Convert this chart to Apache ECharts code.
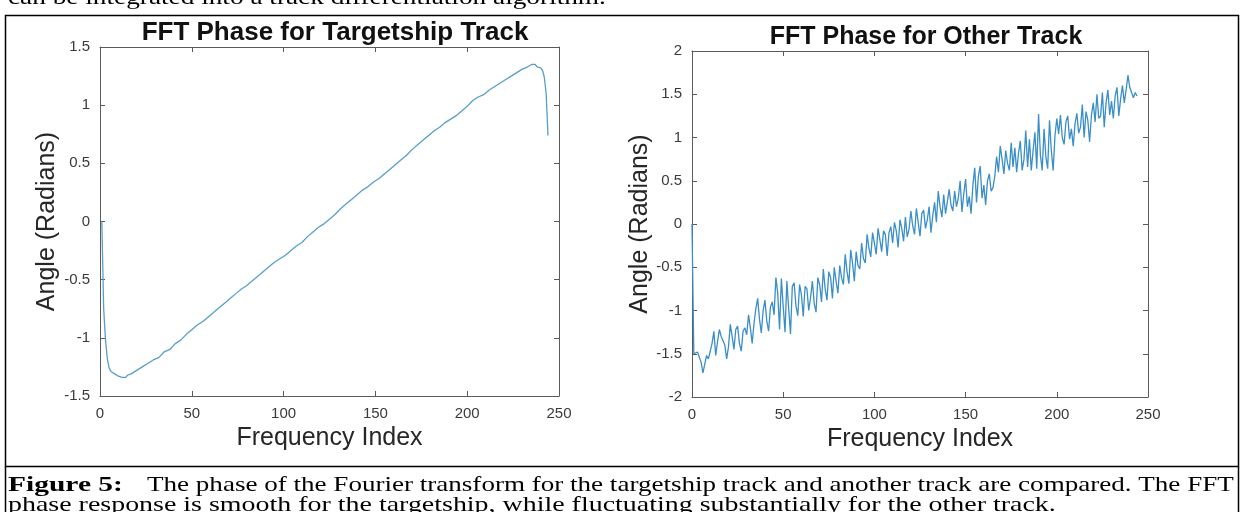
<!DOCTYPE html>
<html>
<head>
<meta charset="utf-8">
<script src="https://cdn.jsdelivr.net/npm/echarts@6/dist/echarts.min.js"></script>
<style>
html,body{margin:0;padding:0;background:#fff;}
#c{width:1244px;height:512px;}
</style>
</head>
<body>
<div id="c"></div>
<script>
// ---- data ----
const xTicks = [0, 50, 100, 150, 200, 250];
const leftTitle = 'FFT Phase for Targetship Track';
const rightTitle = 'FFT Phase for Other Track';
const xName = 'Frequency Index';
const yName = 'Angle (Radians)';

// Targetship track: [frequency index, phase]
const targetIdx = [1,2,3,4,5,6,7,8,9,10,11,12,13,14,15,17,20,23,26,29,32,35,38,41,44,47,50,53,56,59,62,65,68,71,74,77,80,83,86,89,92,95,98,101,104,107,110,113,116,119,122,125,128,131,134,137,140,143,146,149,152,155,158,161,164,167,170,173,176,179,182,185,188,191,194,197,200,203,206,209,212,215,218,221,224,227,230,233,235,236,237,238,240,241,242,243,244];
const targetPhase = [0.00,-0.75,-1.02,-1.18,-1.26,-1.29,-1.30,-1.31,-1.32,-1.33,-1.34,-1.34,-1.33,-1.34,-1.32,-1.31,-1.28,-1.25,-1.22,-1.19,-1.17,-1.12,-1.10,-1.05,-1.02,-0.97,-0.93,-0.89,-0.86,-0.82,-0.78,-0.74,-0.70,-0.66,-0.62,-0.58,-0.55,-0.51,-0.47,-0.43,-0.39,-0.35,-0.32,-0.29,-0.25,-0.21,-0.18,-0.13,-0.09,-0.05,-0.02,0.02,0.06,0.11,0.15,0.19,0.23,0.27,0.30,0.34,0.37,0.41,0.45,0.49,0.53,0.57,0.62,0.66,0.70,0.74,0.78,0.81,0.85,0.88,0.91,0.95,0.99,1.04,1.07,1.09,1.13,1.16,1.19,1.22,1.25,1.28,1.31,1.33,1.35,1.34,1.35,1.33,1.32,1.30,1.24,1.10,0.74];

// Other track: phase at frequency index 0..244
const otherPhase = [
0.00,-1.50,-1.52,-1.48,-1.46,-1.60,-1.72,-1.62,-1.52,-1.56,
-1.58,-1.38,-1.24,-1.52,-1.36,-1.22,-1.30,-1.28,-1.40,-1.56,
-1.42,-1.16,-1.30,-1.45,-1.22,-1.18,-1.38,-1.47,-1.24,-1.20,
-1.28,-1.05,-1.20,-1.38,-1.15,-0.98,-0.86,-1.10,-1.26,-1.00,
-0.88,-1.12,-1.24,-0.96,-0.90,-1.05,-0.62,-0.80,-1.22,-0.63,
-0.95,-1.25,-0.66,-0.98,-1.27,-0.72,-0.68,-0.95,-1.06,-0.70,
-0.82,-1.07,-0.72,-0.75,-1.00,-0.85,-0.66,-0.92,-1.02,-0.62,
-0.70,-0.90,-0.52,-0.75,-0.88,-0.55,-0.62,-0.86,-0.50,-0.66,
-0.80,-0.48,-0.62,-0.70,-0.35,-0.55,-0.69,-0.30,-0.45,-0.66,
-0.32,-0.48,-0.52,-0.22,-0.40,-0.45,-0.12,-0.28,-0.38,-0.10,
-0.22,-0.35,-0.05,-0.18,-0.32,-0.08,-0.12,-0.37,-0.10,-0.03,
-0.22,0.02,-0.08,-0.27,0.05,-0.05,-0.20,0.08,-0.15,-0.06,
0.15,-0.02,-0.12,0.18,0.02,-0.14,0.12,0.16,-0.05,0.05,
0.20,-0.10,0.10,0.25,0.02,0.38,0.20,0.08,0.34,0.12,
0.10,0.40,0.22,0.15,0.38,0.20,0.30,0.50,0.14,0.35,
0.52,0.20,0.32,0.12,0.45,0.65,0.25,0.55,0.67,0.30,
0.45,0.22,0.50,0.58,0.38,0.42,0.55,0.78,0.60,0.90,
0.75,0.58,0.85,0.70,0.62,0.94,0.66,0.88,0.60,0.82,
0.96,0.62,0.75,1.08,0.66,0.98,0.62,0.85,1.06,0.64,
1.27,0.80,0.62,1.10,0.78,0.64,1.20,0.85,0.62,1.02,
1.22,1.04,1.26,1.00,0.92,1.18,1.25,0.98,1.10,0.90,
1.16,1.28,1.05,1.12,1.38,1.00,1.30,1.20,0.95,1.26,
1.40,1.18,1.50,1.22,1.25,1.52,1.12,1.40,1.55,1.26,
1.42,1.22,1.48,1.58,1.25,1.45,1.60,1.40,1.55,1.72,
1.58,1.52,1.46,1.52,1.48
];

const leftYTicks = [-1.5, -1, -0.5, 0, 0.5, 1, 1.5];
const rightYTicks = [-2, -1.5, -1, -0.5, 0, 0.5, 1, 1.5, 2];

const captionBold = 'Figure 5:';
const captionLine1 = 'The phase of the Fourier transform for the targetship track and another track are compared. The FFT';
const captionLine2 = 'phase response is smooth for the targetship, while fluctuating substantially for the other track.';
const topText = 'can be integrated into a track differentiation algorithm.';

// ---- chart ----
const chart = echarts.init(document.getElementById('c'), null, {renderer: 'canvas'});
const sans = 'Liberation Sans, Arial, Helvetica, sans-serif';
const serif = 'Liberation Serif, Times New Roman, serif';
const axisColor = '#5a5a5a';
const labelColor = '#3a3a3a';

function mainX(gi) {
  return {
    type: 'value', gridIndex: gi, min: 0, max: 250, interval: 50, position: 'bottom',
    axisLine: {show: true, onZero: false, lineStyle: {color: axisColor, width: 1}},
    axisTick: {show: true, inside: true, length: 5, lineStyle: {color: axisColor}},
    axisLabel: {show: true, color: labelColor, fontSize: 15, fontFamily: sans, margin: 10},
    splitLine: {show: false},
    name: xName, nameLocation: 'middle', nameGap: 30,
    nameTextStyle: {fontSize: 25, color: '#262626', fontFamily: sans}
  };
}
function topX(gi) {
  return {
    type: 'value', gridIndex: gi, min: 0, max: 250, interval: 50, position: 'top',
    axisLine: {show: true, onZero: false, lineStyle: {color: axisColor, width: 1}},
    axisTick: {show: true, inside: true, length: 5, lineStyle: {color: axisColor}},
    axisLabel: {show: false}, splitLine: {show: false}
  };
}
function mainY(gi, mn, mx, gap) {
  return {
    type: 'value', gridIndex: gi, min: mn, max: mx, interval: 0.5, position: 'left',
    axisLine: {show: true, onZero: false, lineStyle: {color: axisColor, width: 1}},
    axisTick: {show: true, inside: true, length: 5, lineStyle: {color: axisColor}},
    axisLabel: {show: true, color: labelColor, fontSize: 15, fontFamily: sans, margin: 10},
    splitLine: {show: false},
    name: yName, nameLocation: 'middle', nameGap: gap,
    nameTextStyle: {fontSize: 25, color: '#262626', fontFamily: sans}
  };
}
function rightY(gi, mn, mx) {
  return {
    type: 'value', gridIndex: gi, min: mn, max: mx, interval: 0.5, position: 'right',
    axisLine: {show: true, onZero: false, lineStyle: {color: axisColor, width: 1}},
    axisTick: {show: true, inside: true, length: 5, lineStyle: {color: axisColor}},
    axisLabel: {show: false}, splitLine: {show: false}
  };
}

const leftData = targetIdx.map((x, i) => [x, targetPhase[i]]);
const rightData = otherPhase.map((v, i) => [i, v]);

const option = {
  backgroundColor: '#ffffff',
  animation: false,
  title: [
    {text: leftTitle, left: 330, top: 15, textAlign: 'center',
     textStyle: {fontSize: 26, fontWeight: 'bold', color: '#111', fontFamily: sans}},
    {text: rightTitle, left: 921, top: 20, textAlign: 'center',
     textStyle: {fontSize: 25, fontWeight: 'bold', color: '#111', fontFamily: sans}}
  ],
  grid: [
    {left: 100, top: 47, width: 459, height: 349, containLabel: false},
    {left: 692, top: 51, width: 456, height: 346, containLabel: false}
  ],
  xAxis: [mainX(0), topX(0), mainX(1), topX(1)],
  yAxis: [mainY(0, -1.5, 1.5, 40), rightY(0, -1.5, 1.5), mainY(1, -2, 2, 36), rightY(1, -2, 2)],
  series: [
    {type: 'line', xAxisIndex: 0, yAxisIndex: 0, data: leftData, showSymbol: false,
     lineStyle: {color: '#579fc7', width: 1.3}},
    {type: 'line', xAxisIndex: 2, yAxisIndex: 2, data: rightData, showSymbol: false,
     lineStyle: {color: '#3b8fc6', width: 1.3}}
  ],
  graphic: [
    {type: 'rect', shape: {x: 5.5, y: 15.5, width: 1233, height: 451}, style: {fill: 'none', stroke: '#000', lineWidth: 1.5}, silent: true},
    {type: 'line', shape: {x1: 5.5, y1: 466.5, x2: 5.5, y2: 512}, style: {stroke: '#000', lineWidth: 1.5}},
    {type: 'line', shape: {x1: 1238.5, y1: 466.5, x2: 1238.5, y2: 512}, style: {stroke: '#000', lineWidth: 1.5}},
    {type: 'text', x: 8, y: -13, scaleX: 1.24, style: {text: topText, font: '22px ' + serif, fill: '#000'}},
    {type: 'text', x: 8, y: 474, scaleX: 1.34, style: {text: captionBold, font: 'bold 22px ' + serif, fill: '#000'}},
    {type: 'text', x: 147, y: 474, scaleX: 1.23, style: {text: captionLine1, font: '22px ' + serif, fill: '#000'}},
    {type: 'text', x: 8, y: 494, scaleX: 1.27, style: {text: captionLine2, font: '22px ' + serif, fill: '#000'}}
  ]
};
chart.setOption(option);
</script>
</body>
</html>
